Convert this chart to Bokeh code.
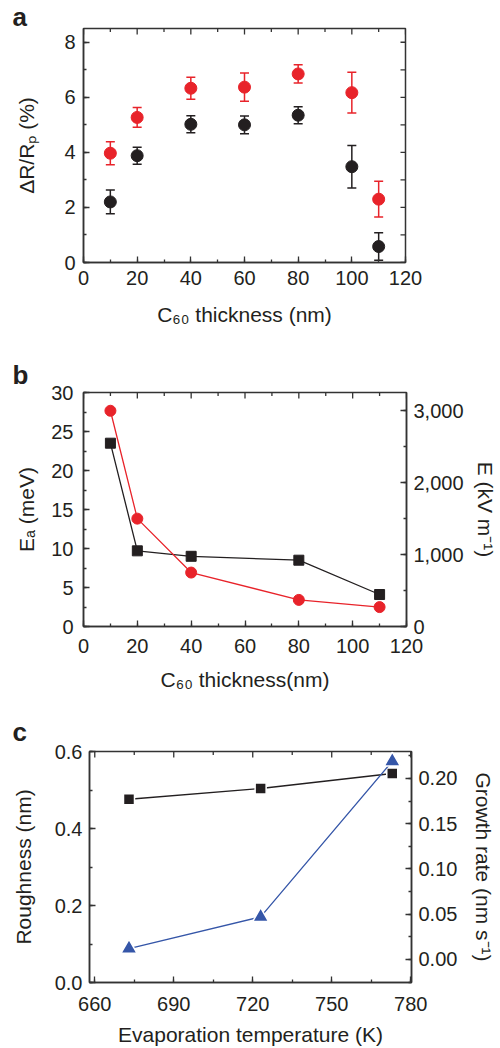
import math
from bokeh.plotting import figure
from bokeh.layouts import column
from bokeh.models import (ColumnDataSource, Range1d, LinearAxis, SingleIntervalTicker,
                          Whisker, TeeHead, NumeralTickFormatter)
from bokeh.embed import file_html
from bokeh.resources import INLINE

# ---------------- data ----------------
# Panel a: magnetoresistance vs C60 thickness
thick_a = [10, 20, 40, 60, 80, 100, 110]
dr_red = [3.97, 5.27, 6.33, 6.37, 6.85, 6.17, 2.30]
dr_red_err = [0.42, 0.36, 0.40, 0.51, 0.33, 0.74, 0.65]
dr_black = [2.20, 3.88, 5.02, 5.00, 5.35, 3.48, 0.58]
dr_black_err = [0.43, 0.31, 0.31, 0.32, 0.31, 0.77, 0.50]

# Panel b: activation energy (left) and electric field (right) vs C60 thickness
thick_b = [10, 20, 40, 80, 110]
ea_mev = [23.5, 9.7, 9.0, 8.5, 4.1]
e_field = [3000, 1500, 750, 370, 270]

# Panel c: roughness (left) and growth rate (right) vs evaporation temperature
temp_c = [673, 723, 773]
roughness = [0.476, 0.504, 0.543]
growth_rate = [0.012, 0.047, 0.219]

# mirror tick positions (top / right edges without labels)
a_top_major = [0, 20, 40, 60, 80, 100, 120]
a_top_minor = [10, 30, 50, 70, 90, 110]
a_right_major = [0, 2, 4, 6, 8]
a_right_minor = [1, 3, 5, 7]
b_top_major = [0, 20, 40, 60, 80, 100, 120]
b_top_minor = [10, 30, 50, 70, 90, 110]
c_top_major = [660, 690, 720, 750, 780]
c_top_minor = [675, 705, 735, 765]

# ---------------- style ----------------
FONT = "Liberation Sans"
AX = "#333333"
TXT = "#231f20"
RED = "#e8232a"
BLACK = "#231f20"
BLUE = "#3556a8"


def style_axis(ax, interval, minor, fmt=None, label_standoff=8, axis_label_standoff=10):
    ax.ticker = SingleIntervalTicker(interval=interval, num_minor_ticks=minor)
    ax.axis_line_color = AX
    ax.axis_line_width = 1.5
    ax.major_tick_line_color = AX
    ax.minor_tick_line_color = AX
    ax.major_tick_line_width = 1.3
    ax.minor_tick_line_width = 1.3
    ax.major_tick_in = 6
    ax.major_tick_out = 0
    ax.minor_tick_in = 3
    ax.minor_tick_out = 0
    ax.major_label_text_font = FONT
    ax.major_label_text_font_size = "20px"
    ax.major_label_text_color = TXT
    ax.major_label_standoff = label_standoff
    ax.axis_label_text_font = FONT
    ax.axis_label_text_font_size = "21px"
    ax.axis_label_text_font_style = "normal"
    ax.axis_label_text_color = TXT
    ax.axis_label_standoff = axis_label_standoff
    if fmt is not None:
        ax.formatter = fmt


def make_fig(height, left, right, top, bottom, xr, yr, letter, letter_offset, letter_standoff):
    p = figure(width=500, height=height, x_range=xr, y_range=yr,
               output_backend="svg", toolbar_location=None,
               min_border_left=left, min_border_right=right,
               min_border_top=top, min_border_bottom=bottom)
    p.grid.visible = False
    p.outline_line_color = AX
    p.outline_line_width = 1.5
    p.background_fill_color = "white"
    p.border_fill_color = "white"
    p.title.text = letter
    p.title.text_font = FONT
    p.title.text_font_size = "26px"
    p.title.text_font_style = "bold"
    p.title.text_color = TXT
    p.title.align = "left"
    p.title.offset = letter_offset
    p.title.standoff = letter_standoff
    return p


def top_ticks(p, xs, size, y_range_name="default"):
    yr = p.y_range if y_range_name == "default" else p.extra_y_ranges[y_range_name]
    p.scatter(xs, [yr.end] * len(xs), marker="dash", angle=math.pi / 2, size=size,
              line_color=AX, line_width=1.3, y_range_name=y_range_name)


def right_ticks(p, ys, size):
    p.scatter([p.x_range.end] * len(ys), ys, marker="dash", size=size,
              line_color=AX, line_width=1.3)


# ---------------- panel a ----------------
pa = make_fig(340, 83, 95, 28, 78, Range1d(0, 120), Range1d(0, 8.5), "a", -71, -7)
style_axis(pa.xaxis[0], 20, 2, label_standoff=8, axis_label_standoff=15)
pa.xaxis[0].axis_label = "C₆₀ thickness (nm)"
style_axis(pa.yaxis[0], 2, 2, label_standoff=8, axis_label_standoff=23)
pa.yaxis[0].axis_label = "ΔR/Rₚ (%)"
top_ticks(pa, a_top_major, 12)
top_ticks(pa, a_top_minor, 7)
right_ticks(pa, a_right_major, 10)
right_ticks(pa, a_right_minor, 10)

for vals, errs, col in ((dr_black, dr_black_err, BLACK), (dr_red, dr_red_err, RED)):
    src = ColumnDataSource(dict(x=thick_a, y=vals,
                                upper=[v + e for v, e in zip(vals, errs)],
                                lower=[v - e for v, e in zip(vals, errs)]))
    pa.add_layout(Whisker(base="x", upper="upper", lower="lower", source=src,
                          line_color=col, line_width=1.5,
                          upper_head=TeeHead(size=9, line_color=col, line_width=1.5),
                          lower_head=TeeHead(size=9, line_color=col, line_width=1.5)))
    pa.scatter("x", "y", source=src, marker="circle", size=12,
               fill_color=col, line_color=col)

# ---------------- panel b ----------------
pb = make_fig(360, 83, 94, 52, 74, Range1d(0, 120), Range1d(0, 30), "b", -71, 5)
pb.extra_y_ranges = {"E": Range1d(0, 3254)}
style_axis(pb.xaxis[0], 20, 2, label_standoff=12, axis_label_standoff=12)
pb.xaxis[0].axis_label = "C₆₀ thickness(nm)"
style_axis(pb.yaxis[0], 5, 2, label_standoff=10, axis_label_standoff=10)
pb.yaxis[0].axis_label = "Eₐ (meV)"
right_b = LinearAxis(y_range_name="E")
style_axis(right_b, 1000, 2, fmt=NumeralTickFormatter(format="0,0"),
           label_standoff=7, axis_label_standoff=7)
right_b.axis_label = "E (kV m⁻¹)"
pb.add_layout(right_b, "right")
top_ticks(pb, b_top_major, 12)
top_ticks(pb, b_top_minor, 7)

pb.line(thick_b, ea_mev, line_color=BLACK, line_width=1.3)
pb.scatter(thick_b, ea_mev, marker="square", size=10, fill_color=BLACK, line_color=BLACK)
pb.line(thick_b, e_field, y_range_name="E", line_color=RED, line_width=1.3)
pb.scatter(thick_b, e_field, y_range_name="E", marker="circle", size=11,
           fill_color=RED, line_color=RED)

# ---------------- panel c ----------------
pc = make_fig(348, 89, 89, 51, 63, Range1d(658, 780.3), Range1d(0, 0.6001), "c", -77, 9)
pc.extra_y_ranges = {"G": Range1d(-0.0255, 0.2298)}
style_axis(pc.xaxis[0], 30, 2, label_standoff=14, axis_label_standoff=9)
pc.xaxis[0].axis_label = "Evaporation temperature (K)"
style_axis(pc.yaxis[0], 0.2, 2, fmt=NumeralTickFormatter(format="0.0"),
           label_standoff=7, axis_label_standoff=17)
pc.yaxis[0].axis_label = "Roughness (nm)"
right_c = LinearAxis(y_range_name="G")
style_axis(right_c, 0.05, 2, fmt=NumeralTickFormatter(format="0.00"),
           label_standoff=7, axis_label_standoff=12)
right_c.axis_label = "Growth rate (nm s⁻¹)"
pc.add_layout(right_c, "right")
top_ticks(pc, c_top_major, 12)
top_ticks(pc, c_top_minor, 7)

pc.line(temp_c, roughness, line_color=BLACK, line_width=1.3)
pc.scatter(temp_c, roughness, marker="square", size=11, fill_color=BLACK,
           line_color="white", line_width=1.5)
pc.line(temp_c, growth_rate, y_range_name="G", line_color=BLUE, line_width=1.3)
pc.scatter(temp_c, growth_rate, y_range_name="G", marker="triangle", size=16,
           fill_color=BLUE, line_color="white", line_width=1.5)

layout = column(column(pa), column(pb), column(pc), spacing=0)
open("out.html", "w").write(file_html(layout, INLINE))
